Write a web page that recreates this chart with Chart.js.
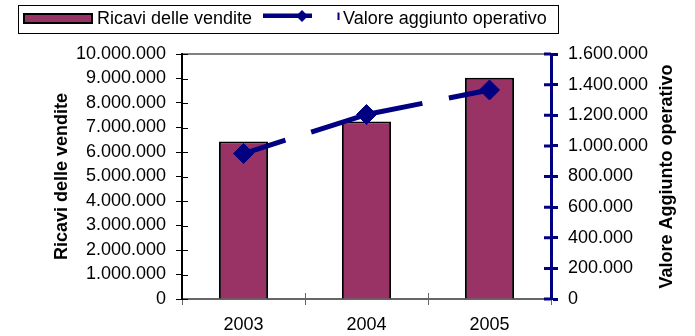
<!DOCTYPE html>
<html>
<head>
<meta charset="utf-8">
<script src="https://cdn.jsdelivr.net/npm/chart.js@4.4.0/dist/chart.umd.min.js"></script>
<style>
  html, body { margin: 0; padding: 0; background: #fff; }
  #wrap { position: relative; width: 695px; height: 336px; }
</style>
</head>
<body>
<div id="wrap"><canvas id="myChart"></canvas></div>
<script>
const years = ['2003', '2004', '2005'];
const ricavi = [6430000, 7250000, 9030000];
const valoreAggiunto = [950000, 1205000, 1365000];
const ricaviTicks = [0, 1000000, 2000000, 3000000, 4000000, 5000000, 6000000, 7000000, 8000000, 9000000, 10000000];
const valoreTicks = [0, 200000, 400000, 600000, 800000, 1000000, 1200000, 1400000, 1600000];

const MAROON = '#993366';
const NAVY = '#000080';
const FONT = "'Liberation Sans', Arial, sans-serif";

Chart.defaults.font.family = FONT;
Chart.defaults.font.size = 18;
Chart.defaults.color = '#000';

// 10000000 -> "10.000.000"
const fmt = v => String(v).replace(/\B(?=(\d{3})+(?!\d))/g, '.');
const useTicks = list => scale => { scale.ticks = list.map(v => ({ value: v })); };

// gray frame on top and right of the plot area, under the axes
const plotFrame = {
  id: 'plotFrame',
  beforeDraw(chart) {
    const { ctx, chartArea: a } = chart;
    ctx.save();
    ctx.strokeStyle = '#808080';
    ctx.lineWidth = 2;
    ctx.beginPath();
    ctx.moveTo(a.left, a.top);
    ctx.lineTo(a.right, a.top);
    ctx.lineTo(a.right, a.bottom);
    ctx.stroke();
    ctx.restore();
  }
};

// ticks cross the axes: chart.js draws the outer half, here the inner half
const crossTicks = {
  id: 'crossTicks',
  afterDatasetsDraw(chart) {
    const { ctx, chartArea: a, scales } = chart;
    ctx.save();
    ctx.lineWidth = 1;
    ctx.strokeStyle = '#000';
    ctx.beginPath();
    scales.y.ticks.forEach(t => {
      const y = Math.round(scales.y.getPixelForValue(t.value)) + 0.5;
      ctx.moveTo(a.left, y);
      ctx.lineTo(a.left + 6, y);
    });
    ctx.stroke();

    ctx.strokeStyle = '#666';
    ctx.beginPath();
    for (let i = 1; i < years.length; i++) {
      const x = Math.round((scales.x.getPixelForValue(i - 1) + scales.x.getPixelForValue(i)) / 2) + 0.5;
      ctx.moveTo(x, a.bottom - 6);
      ctx.lineTo(x, a.bottom);
    }
    ctx.stroke();

    ctx.lineWidth = 3;
    ctx.strokeStyle = NAVY;
    ctx.beginPath();
    scales.y1.ticks.forEach(t => {
      const y = scales.y1.getPixelForValue(t.value);
      ctx.moveTo(a.right - 7, y);
      ctx.lineTo(a.right, y);
    });
    ctx.stroke();
    ctx.restore();
  }
};

// boxed legend at the top and the right axis title
const legendBox = {
  id: 'legendBox',
  afterDraw(chart) {
    const ctx = chart.ctx;
    const lineSet = chart.data.datasets[0];
    const barSet = chart.data.datasets[1];
    ctx.save();
    ctx.strokeStyle = '#000';
    ctx.lineWidth = 1;
    ctx.strokeRect(18.5, 5.5, 540, 28);

    ctx.fillStyle = barSet.backgroundColor;
    ctx.fillRect(23, 13, 70, 11);
    ctx.lineWidth = 2;
    ctx.strokeRect(24, 14, 68, 9);

    ctx.font = '18px ' + FONT;
    ctx.fillStyle = '#000';
    ctx.textAlign = 'left';
    ctx.textBaseline = 'middle';
    ctx.fillText(barSet.label, 97, 19);

    ctx.fillStyle = lineSet.borderColor;
    ctx.fillRect(263, 13.5, 49, 4.5);
    ctx.beginPath();
    ctx.moveTo(302, 10);
    ctx.lineTo(308, 16);
    ctx.lineTo(302, 22);
    ctx.lineTo(296, 16);
    ctx.closePath();
    ctx.fill();
    ctx.fillRect(337.5, 12.5, 2, 7.5);

    ctx.fillStyle = '#000';
    ctx.fillText(lineSet.label, 343, 19);

    const a = chart.chartArea;
    ctx.translate(667, (a.top + a.bottom) / 2);
    ctx.rotate(-Math.PI / 2);
    ctx.textAlign = 'center';
    ctx.font = 'bold 18px ' + FONT;
    ctx.fillText('Valore Aggiunto operativo', 0, 0);
    ctx.restore();
  }
};

new Chart(document.getElementById('myChart'), {
  type: 'bar',
  data: {
    labels: years,
    datasets: [
      {
        type: 'line',
        label: 'Valore aggiunto operativo',
        data: valoreAggiunto,
        yAxisID: 'y1',
        order: 0,
        borderColor: NAVY,
        borderWidth: 5,
        borderDash: [57, 27],
        segment: { borderDashOffset: c => (c.p0DataIndex === 0 ? 13 : 0) },
        fill: false,
        tension: 0,
        pointStyle: 'rectRot',
        pointRadius: 10,
        pointBackgroundColor: NAVY,
        pointBorderColor: NAVY,
        pointBorderWidth: 1
      },
      {
        label: 'Ricavi delle vendite',
        data: ricavi,
        yAxisID: 'y',
        order: 1,
        backgroundColor: MAROON,
        borderColor: '#000',
        borderWidth: 2,
        barPercentage: 0.4,
        categoryPercentage: 1
      }
    ]
  },
  options: {
    responsive: true,
    maintainAspectRatio: false,
    animation: false,
    layout: { padding: { top: 54, left: 0, right: 0, bottom: 0 } },
    plugins: { legend: { display: false }, tooltip: { enabled: false } },
    scales: {
      x: {
        grid: { offset: true, drawOnChartArea: false, tickLength: 6, tickColor: '#666', tickWidth: 1 },
        border: { color: '#666', width: 2 },
        ticks: { padding: 9 },
        afterFit: s => { s.height = 37; }
      },
      y: {
        position: 'left',
        min: ricaviTicks[0],
        max: ricaviTicks[ricaviTicks.length - 1],
        afterBuildTicks: useTicks(ricaviTicks),
        ticks: { callback: fmt, padding: 10, autoSkip: false },
        grid: { drawOnChartArea: false, tickLength: 6, tickColor: '#000', tickWidth: 1 },
        border: { color: '#000', width: 2 },
        title: {
          display: true,
          text: 'Ricavi delle vendite',
          font: { weight: 'bold', size: 18 },
          padding: { top: 51, bottom: 0 }
        },
        afterFit: s => { s.width = 182; }
      },
      y1: {
        position: 'right',
        min: valoreTicks[0],
        max: valoreTicks[valoreTicks.length - 1],
        afterBuildTicks: useTicks(valoreTicks),
        ticks: { callback: fmt, padding: 10, autoSkip: false },
        grid: { drawOnChartArea: false, tickLength: 7, tickColor: NAVY, tickWidth: 3 },
        border: { color: NAVY, width: 3, dash: [22, 8] },
        afterFit: s => { s.width = 144; }
      }
    }
  },
  plugins: [plotFrame, crossTicks, legendBox]
});
</script>
</body>
</html>
